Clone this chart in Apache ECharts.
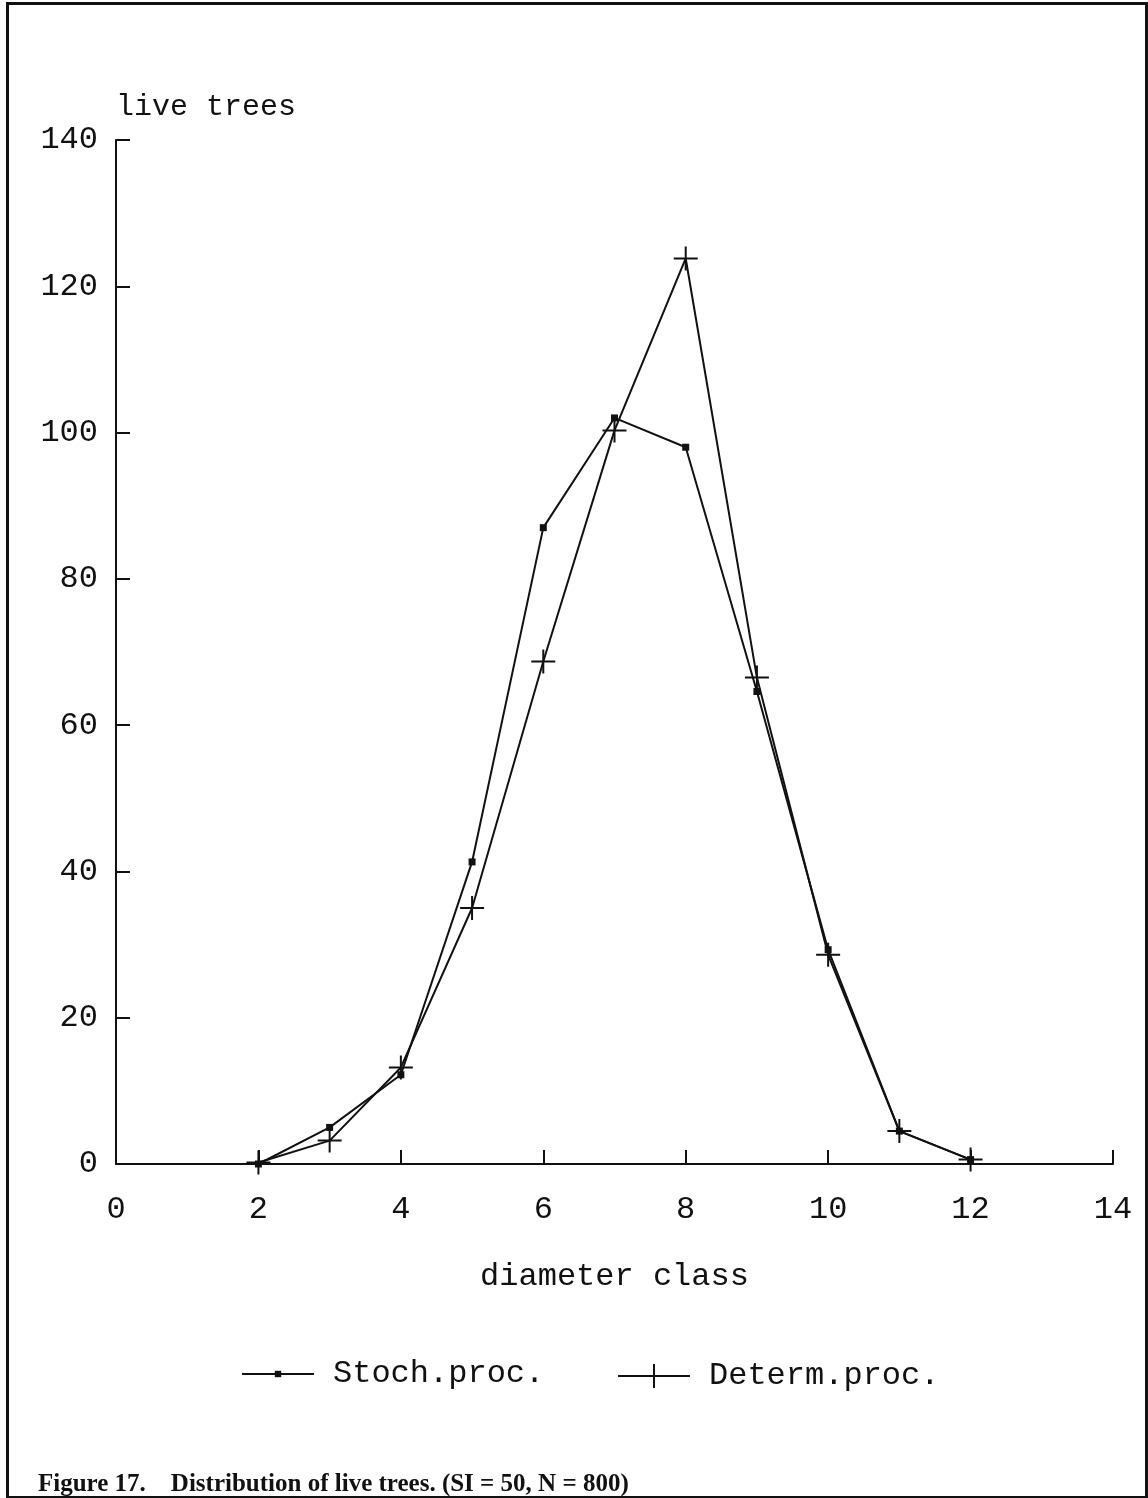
<!DOCTYPE html>
<html>
<head>
<meta charset="utf-8">
<script src="https://cdn.jsdelivr.net/npm/echarts@6/dist/echarts.min.js"></script>
<style>
  html, body { margin: 0; padding: 0; background: #fff; }
  .box { position: relative; width: 1148px; height: 1498px; }
  .frame {
    position: absolute; left: 6px; top: 2px; width: 1136px; height: 1491px;
    border: 3px solid #111; pointer-events: none;
  }
  #chart { width: 1148px; height: 1498px; }
</style>
</head>
<body>
<div class="box">
  <div id="chart"></div>
  <div class="frame"></div>
</div>
<script>
// diameter classes
const classes = [2, 3, 4, 5, 6, 7, 8, 9, 10, 11, 12]
// live trees per class
const stochValues = [0, 5, 12.2, 41.3, 87, 102, 98, 64.6, 29.3, 4.5, 0.6]
const determValues = [0.2, 3.2, 13.2, 35, 68.7, 100.3, 123.8, 66.5, 28.6, 4.5, 0.6]
const seriesNames = ['Stoch.proc.', 'Determ.proc.']

const font = 'Liberation Mono'
const ink = '#111'
const plusPath = 'path://M12,0 L12,24 M0,12 L24,12'

let mychart = echarts.init(document.getElementById('chart'))

const toPairs = (vals) => classes.map((c, i) => [c, vals[i]])

// 图例文字
const legendText = {
  fontFamily: font,
  fontSize: 32,
  color: ink,
  padding: [6, 0, 0, 14],
}

var option = {
  animation: false,
  backgroundColor: '#fff',
  title: {
    text: 'Figure 17.    Distribution of live trees. (SI = 50, N = 800)',
    left: 33,
    top: 1467,
    textStyle: {
      fontFamily: 'Liberation Serif',
      fontWeight: 'bold',
      fontSize: 25,
      color: ink,
    },
  },
  grid: {
    left: 116,
    right: 35,
    top: 140,
    bottom: 334,
  },
  // two legends so each icon can have its own size
  legend: [
    {
      left: 236,
      top: 1353,
      itemWidth: 72,
      itemHeight: 8,
      data: [seriesNames[0]],
      textStyle: Object.assign({}, legendText, { padding: [0, 0, 0, 14] }),
    },
    {
      left: 612,
      top: 1355,
      itemWidth: 72,
      itemHeight: 30,
      data: [seriesNames[1]],
      textStyle: legendText,
    },
  ],
  xAxis: {
    type: 'value',
    min: 0,
    max: 14,
    interval: 2,
    name: 'diameter class',
    nameLocation: 'middle',
    nameGap: 97,
    nameTextStyle: { fontFamily: font, fontSize: 32, color: ink },
    axisLine: { show: true, lineStyle: { color: ink, width: 2 } },
    axisTick: { show: true, inside: true, length: 14, lineStyle: { color: ink, width: 2 } },
    splitLine: { show: false },
    axisLabel: { fontFamily: font, fontSize: 32, color: ink, margin: 30 },
  },
  yAxis: {
    type: 'value',
    min: 0,
    max: 140,
    interval: 20,
    name: 'live trees',
    nameLocation: 'end',
    nameGap: 18,
    nameTextStyle: { fontFamily: font, fontSize: 30, color: ink, align: 'left' },
    axisLine: { show: true, lineStyle: { color: ink, width: 2 } },
    axisTick: { show: true, inside: true, length: 14, lineStyle: { color: ink, width: 2 } },
    splitLine: { show: false },
    axisLabel: { fontFamily: font, fontSize: 32, color: ink, margin: 18 },
  },
  series: [
    {
      name: seriesNames[0],
      type: 'line',
      symbol: 'rect',
      symbolSize: 7,
      lineStyle: { color: ink, width: 2 },
      itemStyle: { color: ink },
      data: toPairs(stochValues),
    },
    {
      name: seriesNames[1],
      type: 'line',
      symbol: plusPath,
      symbolSize: 24,
      lineStyle: { color: ink, width: 2 },
      itemStyle: { color: 'none', borderColor: ink, borderWidth: 2 },
      data: toPairs(determValues),
    },
  ],
}

mychart.setOption(option)
</script>
</body>
</html>
